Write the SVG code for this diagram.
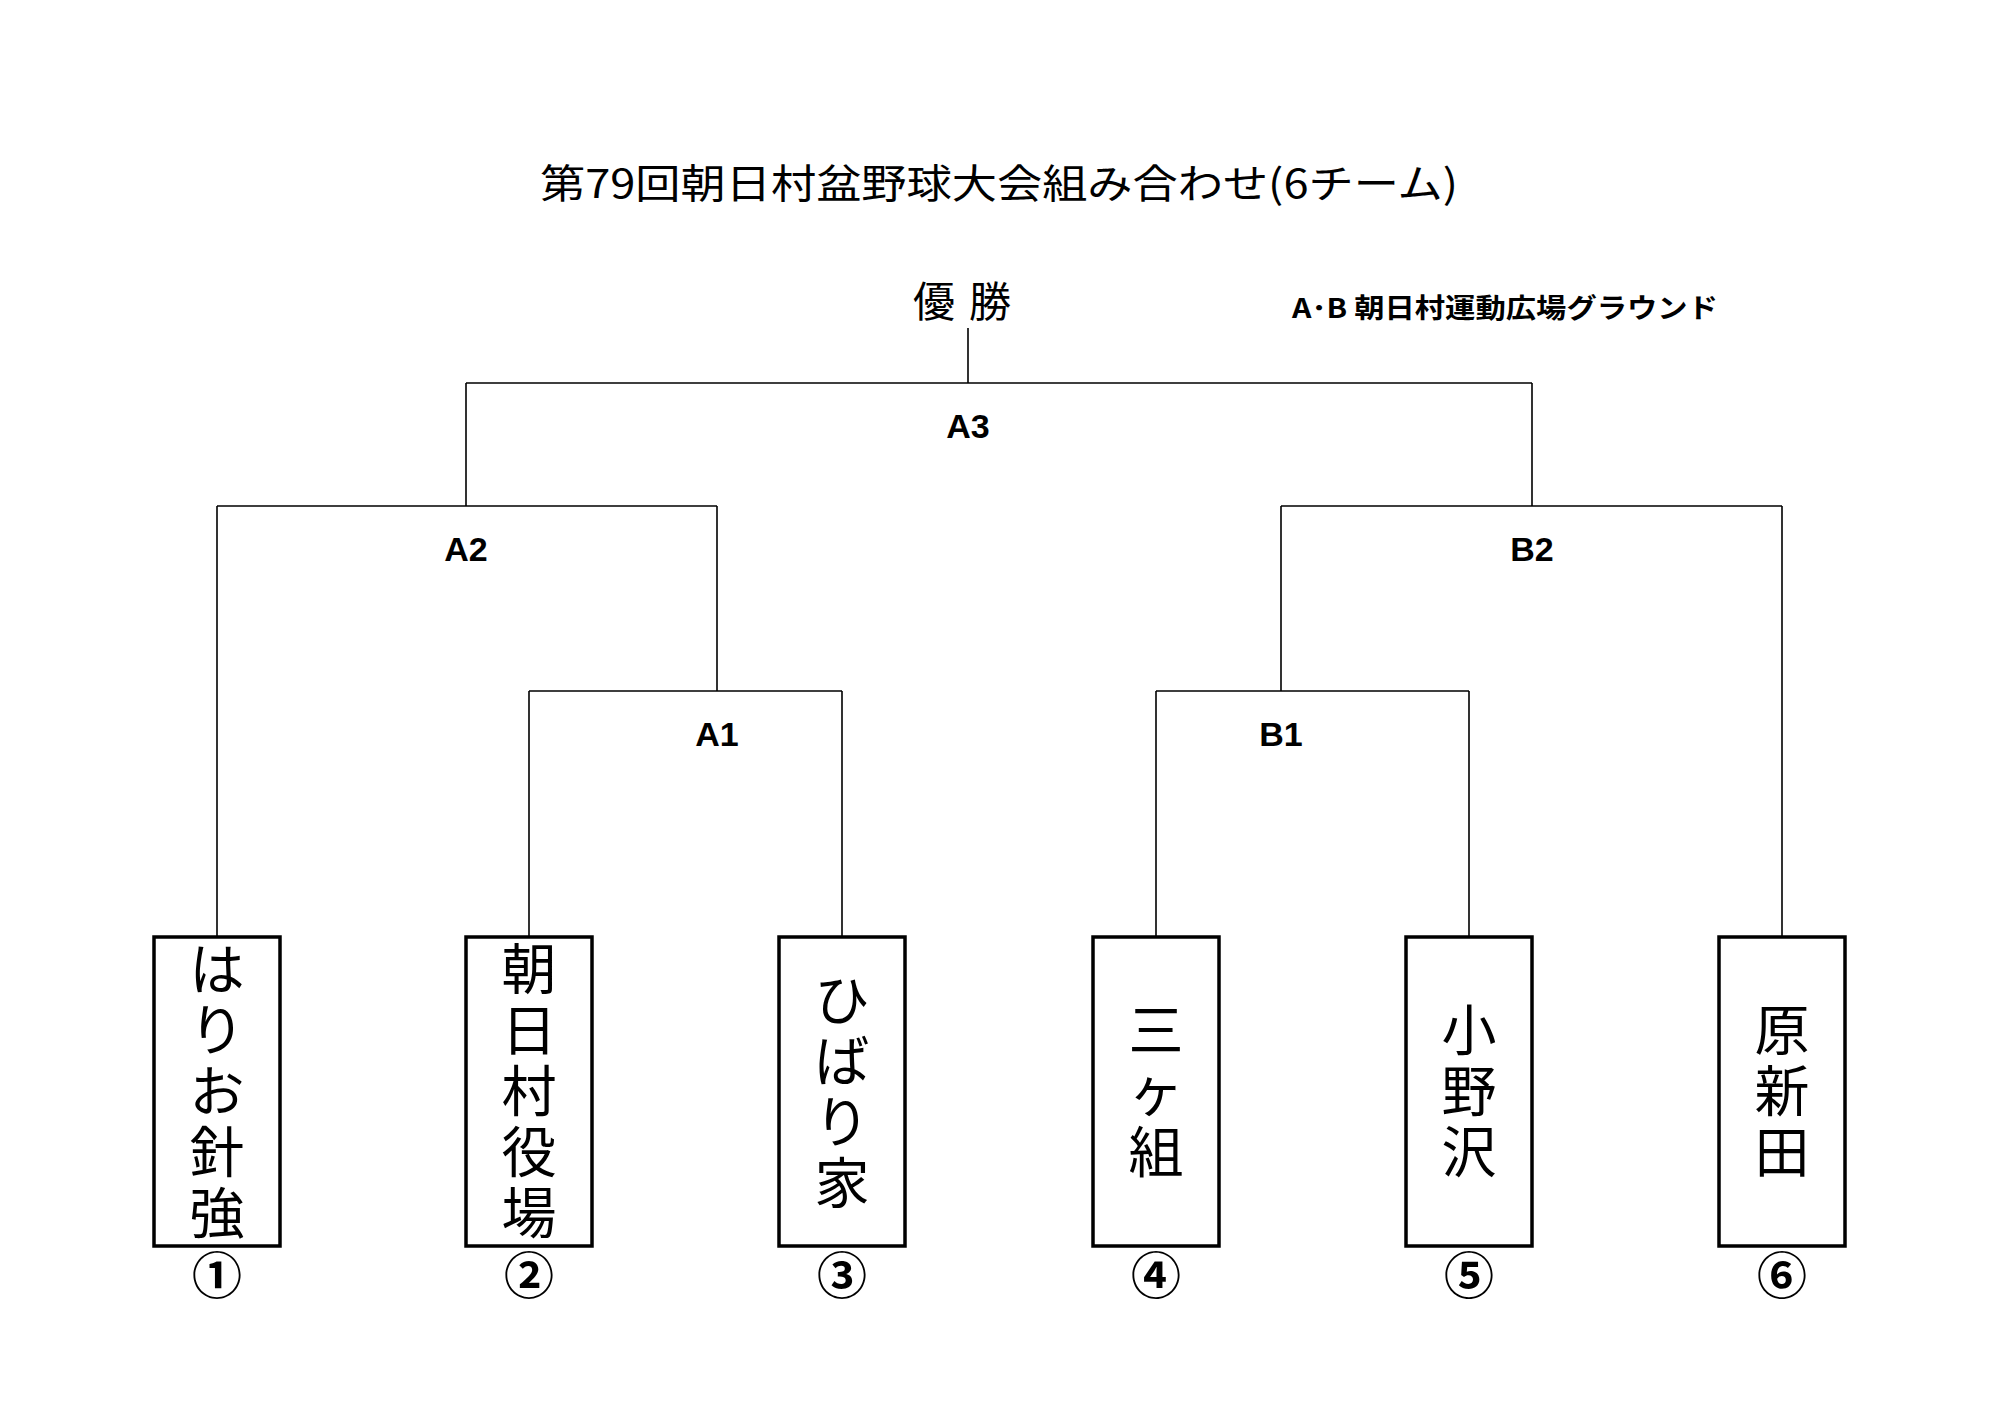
<svg xmlns="http://www.w3.org/2000/svg" width="2000" height="1414" viewBox="0 0 2000 1414">
<style>
.t{font-family:"Noto Sans CJK JP","Liberation Sans",sans-serif;fill:#000}
.lbl{font-family:"Liberation Sans","Noto Sans CJK JP",sans-serif;font-weight:bold;font-size:34px;text-anchor:middle}
.box{fill:#fff;stroke:#000;stroke-width:3.5}
.nm{font-size:55px;text-anchor:middle}
.num{font-size:50px;text-anchor:middle;font-weight:bold}
.ln{stroke:#000;stroke-width:1.6;fill:none}
</style>
<rect width="2000" height="1414" fill="#fff"/>
<text class="t" x="999" y="198" font-size="40" text-anchor="middle" textLength="918" lengthAdjust="spacingAndGlyphs">第79回朝日村盆野球大会組み合わせ(6チーム)</text>
<text class="t" x="969" y="317" font-size="42" text-anchor="middle" letter-spacing="14">優勝</text>
<text class="t" x="1292" y="318" font-size="27" font-weight="bold" textLength="426" lengthAdjust="spacingAndGlyphs">A･B 朝日村運動広場グラウンド</text>
<g id="connectors">
<path class="ln" d="M968 328V383M466 383H1532M466 383V506M1532 383V506M217 506H717M1281 506H1782M217 506V937M717 506V691M529 691H842M529 691V937M842 691V937M1281 506V691M1156 691H1469M1156 691V937M1469 691V937M1782 506V937"/>
</g>
<text class="lbl" x="968" y="438">A3</text>
<text class="lbl" x="466" y="561">A2</text>
<text class="lbl" x="1532" y="561">B2</text>
<text class="lbl" x="717" y="746">A1</text>
<text class="lbl" x="1281" y="746">B1</text>
<g id="team1"><rect class="box" x="154" y="937" width="126" height="309"/>
<text class="t nm"><tspan x="217" y="989">は</tspan><tspan x="217" y="1050">り</tspan><tspan x="217" y="1111">お</tspan><tspan x="217" y="1172">針</tspan><tspan x="217" y="1233">強</tspan></text>
<text class="t num" x="217" y="1294">①</text></g>
<g id="team2"><rect class="box" x="466" y="937" width="126" height="309"/>
<text class="t nm"><tspan x="529" y="989">朝</tspan><tspan x="529" y="1050">日</tspan><tspan x="529" y="1111">村</tspan><tspan x="529" y="1172">役</tspan><tspan x="529" y="1233">場</tspan></text>
<text class="t num" x="529" y="1294">②</text></g>
<g id="team3"><rect class="box" x="779" y="937" width="126" height="309"/>
<text class="t nm"><tspan x="842" y="1020">ひ</tspan><tspan x="842" y="1081">ば</tspan><tspan x="842" y="1142">り</tspan><tspan x="842" y="1203">家</tspan></text>
<text class="t num" x="842" y="1294">③</text></g>
<g id="team4"><rect class="box" x="1093" y="937" width="126" height="309"/>
<text class="t nm"><tspan x="1156" y="1050">三</tspan><tspan x="1156" y="1111">ヶ</tspan><tspan x="1156" y="1172">組</tspan></text>
<text class="t num" x="1156" y="1294">④</text></g>
<g id="team5"><rect class="box" x="1406" y="937" width="126" height="309"/>
<text class="t nm"><tspan x="1469" y="1050">小</tspan><tspan x="1469" y="1111">野</tspan><tspan x="1469" y="1172">沢</tspan></text>
<text class="t num" x="1469" y="1294">⑤</text></g>
<g id="team6"><rect class="box" x="1719" y="937" width="126" height="309"/>
<text class="t nm"><tspan x="1782" y="1050">原</tspan><tspan x="1782" y="1111">新</tspan><tspan x="1782" y="1172">田</tspan></text>
<text class="t num" x="1782" y="1294">⑥</text></g>
</svg>
